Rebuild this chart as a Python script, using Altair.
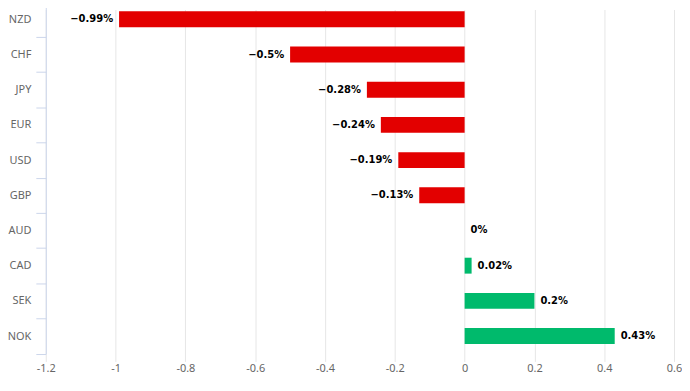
import altair as alt
import pandas as pd

currencies = ["NZD", "CHF", "JPY", "EUR", "USD", "GBP", "AUD", "CAD", "SEK", "NOK"]
changes = [-0.99, -0.5, -0.28, -0.24, -0.19, -0.13, 0, 0.02, 0.2, 0.43]
x_ticks = [-1.2, -1.0, -0.8, -0.6, -0.4, -0.2, 0, 0.2, 0.4, 0.6]

labels = [("%g%%" % v).replace("-", "\u2212") for v in changes]
df = pd.DataFrame({
    "cur": currencies,
    "chg": changes,
    "label": labels,
    "sign": ["neg" if v < 0 else "pos" for v in changes],
})

y_enc = alt.Y(
    "cur:N",
    sort=currencies,
    title=None,
    scale=alt.Scale(range=[-7.4, 346.6], paddingInner=0, paddingOuter=0),
    axis=alt.Axis(
        tickBand="extent",
        domainColor="#ccd6eb",
        tickColor="#ccd6eb",
        tickSize=10,
        labelPadding=5,
        labelColor="#666666",
        labelFont="Noto Sans",
        labelFontSize=11,
        grid=False,
    ),
)

x_enc = alt.X(
    "chg:Q",
    title=None,
    scale=alt.Scale(domain=[-1.2, 0.6], nice=False, zero=False),
    axis=alt.Axis(
        values=x_ticks,
        domain=False,
        ticks=False,
        grid=True,
        gridColor="#e6e6e6",
        labelColor="#666666",
        labelFont="Noto Sans",
        labelFontSize=11,
        labelPadding=9,
        labelFlush=False,
        labelExpr="replace(format(datum.value, '~g'), '\u2212', '-')",
    ),
)

bars = alt.Chart(df).mark_bar(size=16).encode(
    y=y_enc,
    x=x_enc,
    x2=alt.datum(0),
    color=alt.Color(
        "sign:N",
        scale=alt.Scale(domain=["neg", "pos"], range=["#e30000", "#00ba6c"]),
        legend=None,
    ),
)

text_neg = alt.Chart(df).transform_filter("datum.chg < 0").mark_text(
    align="right", baseline="middle", dx=-6, font="DejaVu Sans", fontWeight="bold",
    fontSize=10, color="#000000"
).encode(y=alt.Y("cur:N", sort=currencies), x="chg:Q", text="label:N")

text_pos = alt.Chart(df).transform_filter("datum.chg >= 0").mark_text(
    align="left", baseline="middle", dx=6, font="DejaVu Sans", fontWeight="bold",
    fontSize=10, color="#000000"
).encode(y=alt.Y("cur:N", sort=currencies), x="chg:Q", text="label:N")

chart = alt.layer(bars, text_neg, text_pos).properties(
    width=632,
    height=347,
    autosize=alt.AutoSizeParams(type="none"),
    padding={"left": 38, "top": 0, "right": 8, "bottom": 22},
).configure_view(stroke=None)

chart.save("out.html", embed_options={"renderer": "svg", "actions": False})
